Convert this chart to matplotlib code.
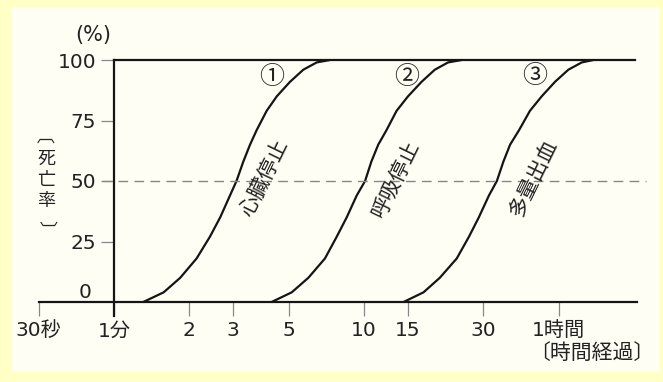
import numpy as np
import matplotlib
matplotlib.use('Agg')
import matplotlib.pyplot as plt
from matplotlib.patches import Rectangle

plt.rcParams['font.family'] = ['DejaVu Sans', 'Noto Sans CJK JP']

# 経過時間(分) と 死亡率(%) : 図から読み取った値
heart_t = [1.31, 1.58, 1.84, 2.14, 2.42, 2.66, 2.91, 3.09, 3.29, 3.50, 3.72, 4.08, 4.48, 5.06, 5.72, 6.47, 7.31]
heart_p = [0, 4, 10, 18, 27, 35, 44, 50, 58, 65, 71, 79, 85, 91, 96, 99, 100]

breath_t = [4.27, 5.14, 5.99, 6.98, 7.78, 8.53, 9.35, 10.1, 10.7, 11.4, 12.3, 13.5, 15.0, 17.0, 19.2, 21.7, 24.6]
breath_p = [0, 4, 10, 18, 27, 35, 44, 50, 58, 65, 71, 79, 85, 91, 96, 99, 100]

bleed_t = [14.4, 17.3, 20.1, 23.5, 26.3, 28.8, 31.6, 34.0, 36.1, 38.4, 41.7, 46.1, 51.4, 58.1, 65.7, 74.3, 82.7]
bleed_p = [0, 4, 10, 18, 27, 35, 44, 50, 58, 65, 71, 79, 85, 91, 96, 99, 100]

curve_names = ['心臓停止', '呼吸停止', '多量出血']
curve_marks = ['①', '②', '③']

x_ticks = [0.5, 1, 2, 3, 5, 10, 15, 30, 60]
x_labels = ['30秒', '1分', '2', '3', '5', '10', '15', '30', '1時間']
y_ticks = [25, 50, 75, 100]

W, H = 663, 382
fig = plt.figure(figsize=(W / 100, H / 100), dpi=100, facecolor='#FFFFC6')
fig.patches.append(Rectangle((12 / W, 10 / H), 648 / W, 365 / H,
                             transform=fig.transFigure, facecolor='#FEFEF4',
                             edgecolor='none', zorder=-1))

# 1分 = 114px, 1桁 = 250px の対数軸
def px2t(px):
    return 10 ** ((px - 114) / 250)

ax = fig.add_axes([30 / W, 80 / H, 620 / W, 242 / H])
ax.set_facecolor('none')
ax.set_xscale('log')
ax.set_xlim(px2t(30), px2t(650))
ax.set_ylim(0, 100)
for s in ax.spines.values():
    s.set_visible(False)
ax.spines['left'].set_position(('data', 1))

lw = 1.6
ink = '#151515'
for t, p in [(heart_t, heart_p), (breath_t, breath_p), (bleed_t, bleed_p)]:
    ax.plot(t, p, color=ink, lw=lw, clip_on=False, solid_capstyle='round',
            solid_joinstyle='round')

# 枠線
ax.plot([1, px2t(635)], [100, 100], color=ink, lw=lw, clip_on=False)
ax.plot([0.5, px2t(637)], [0, 0], color=ink, lw=lw, clip_on=False)
ax.plot([1, 1], [-5.8, 100], color=ink, lw=lw, clip_on=False)
ax.plot([px2t(102), px2t(646)], [50, 50], color='#888888', lw=1.0,
        dashes=(7, 4.5), clip_on=False)

ax.set_xticks(x_ticks)
ax.set_xticklabels(x_labels)
ax.xaxis.set_minor_locator(matplotlib.ticker.NullLocator())
ax.set_yticks(y_ticks)
ax.set_yticklabels([str(v) for v in y_ticks])
ax.tick_params(axis='x', direction='out', length=10, width=0.9, color='#888888',
               pad=4, labelsize=14.5, labelcolor='#222222')
ax.tick_params(axis='y', direction='out', length=9.5, width=0.9, color='#888888',
               pad=3.5, labelsize=14.5, labelcolor='#222222')
ax.annotate('0', xy=(1, 0), xytext=(-16.5, 7), textcoords='offset points',
            ha='right', va='center', fontsize=14.5, color='#222222')

# 曲線ラベル
mark_pos = [(px2t(272), 93), (px2t(407), 93), (px2t(535), 93.4)]
name_pos = [(px2t(265), 51.2), (px2t(395), 50.8), (px2t(534), 51.2)]
for m, (mx, my), n, (nx, ny) in zip(curve_marks, mark_pos, curve_names, name_pos):
    ax.text(mx, my, m, ha='center', va='center', fontsize=18, color='#222222',
            family=['Noto Sans CJK JP', 'DejaVu Sans'])
    ax.text(nx, ny, n, ha='center', va='center', fontsize=15, color='#222222',
            rotation=64, rotation_mode='anchor')

cjk = ['Noto Sans CJK JP', 'DejaVu Sans']
fig.text(93 / W, 1 - 35 / H, '(%)', ha='center', va='center', fontsize=15, color='#222222')
# 縦書きの軸名 〔死亡率〕 (括弧は90度回して上下に置く)
fig.text(30 / W, 1 - 146 / H, '〔', ha='center', va='center', rotation=-90,
         rotation_mode='anchor', fontsize=13, color='#222222', family=cjk)
fig.text(46 / W, 1 - 180 / H, '死\n亡\n率', ha='center', va='center',
         fontsize=13, color='#222222', linespacing=1.2, family=cjk)
fig.text(45 / W, 1 - 229 / H, '〕', ha='center', va='center', rotation=-90,
         rotation_mode='anchor', fontsize=13, color='#222222', family=cjk)
fig.text(592 / W, 1 - 353 / H, '〔時間経過〕', ha='center', va='center', fontsize=15,
         color='#222222', family=cjk)

fig.savefig('out.png', dpi=100, facecolor=fig.get_facecolor())
